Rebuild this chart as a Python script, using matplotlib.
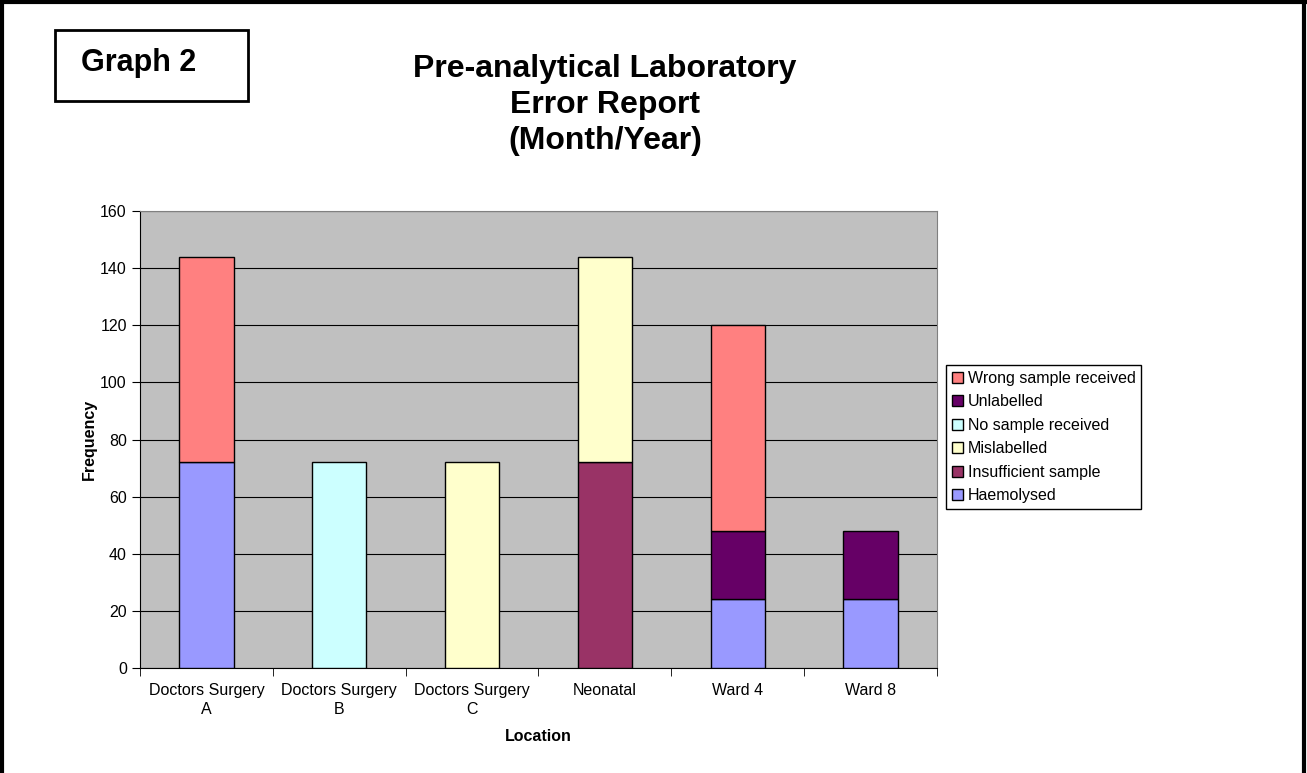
import numpy as np
import matplotlib
matplotlib.use('Agg')
import matplotlib.pyplot as plt
from matplotlib.lines import Line2D
from matplotlib.patches import Rectangle

plt.rcParams['font.family'] = ['Liberation Sans', 'DejaVu Sans']

locations = ['Doctors Surgery\nA', 'Doctors Surgery\nB', 'Doctors Surgery\nC',
             'Neonatal', 'Ward 4', 'Ward 8']
series_names = ['Haemolysed', 'Insufficient sample', 'Mislabelled',
                'No sample received', 'Unlabelled', 'Wrong sample received']
haemolysed = [72, 0, 0, 0, 24, 24]
insufficient = [0, 0, 0, 72, 0, 0]
mislabelled = [0, 0, 72, 72, 0, 0]
no_sample = [0, 72, 0, 0, 0, 0]
unlabelled = [0, 0, 0, 0, 24, 24]
wrong_sample = [72, 0, 0, 0, 72, 0]
series_colors = ['#9999FF', '#993366', '#FFFFCC', '#CCFFFF', '#660066', '#FF8080']

fig = plt.figure(figsize=(13.07, 7.73), dpi=100)
ax = fig.add_axes([140 / 1307, 1 - 668 / 773, (937 - 140) / 1307, (668 - 211) / 773])
ax.set_facecolor('#C0C0C0')

x = np.arange(len(locations))
bottom = np.zeros(len(locations))
handles = []
for name, vals, col in zip(series_names,
                           [haemolysed, insufficient, mislabelled, no_sample, unlabelled, wrong_sample],
                           series_colors):
    vals = np.array(vals, dtype=float)
    mask = vals > 0
    ax.bar(x[mask], vals[mask], 0.41, bottom=bottom[mask], color=col,
           edgecolor='black', linewidth=1, zorder=3)
    bottom += vals
    handles.append(Rectangle((0, 0), 1, 1, facecolor=col, edgecolor='black', linewidth=1))

ax.set_xlim(-0.5, len(locations) - 0.5)
ax.set_ylim(0, 160)
ax.set_yticks(np.arange(0, 161, 20))
ax.yaxis.grid(True, color='black', linewidth=0.8, zorder=1)
ax.set_axisbelow(True)
ax.set_xticks(x)
ax.set_xticklabels(locations, fontsize=11.5, linespacing=1.3)
ax.set_xticks(np.arange(-0.5, len(locations)), minor=True)
ax.tick_params(axis='x', which='major', length=0, pad=11)
ax.tick_params(axis='x', which='minor', length=6, direction='out', color='black')
ax.tick_params(axis='y', length=6, direction='out', labelsize=11.5)
for s in ['top', 'right']:
    ax.spines[s].set_color('#808080')
for s in ['left', 'bottom']:
    ax.spines[s].set_color('black')

ax.set_xlabel('Location', fontsize=11.5, fontweight='bold', labelpad=9)
ax.set_ylabel('Frequency', fontsize=11.5, fontweight='bold', labelpad=2)

leg = fig.legend(handles[::-1], series_names[::-1], loc='center left',
                 bbox_to_anchor=(946 / 1307, 1 - 437 / 773), fontsize=11.5,
                 frameon=True, fancybox=False, edgecolor='black', framealpha=1,
                 handlelength=0.7, handleheight=0.7, handletextpad=0.3,
                 labelspacing=0.53, borderpad=0.35, borderaxespad=0)
leg.get_frame().set_linewidth(1)

fig.text(605 / 1307, 1 - 105 / 773, 'Pre-analytical Laboratory\nError Report\n(Month/Year)',
         ha='center', va='center', fontsize=23, fontweight='bold', linespacing=1.25)

fig.add_artist(Rectangle((55 / 1307, 1 - 101 / 773), 193 / 1307, 71 / 773,
                         transform=fig.transFigure, facecolor='white', edgecolor='black',
                         linewidth=2))
fig.text(139 / 1307, 1 - 63 / 773, 'Graph 2', ha='center', va='center',
         fontsize=22, fontweight='bold')

# outer frame (left, top, right)
fig.add_artist(Line2D([2 / 1307, 2 / 1307], [0, 1], transform=fig.transFigure, color='black', linewidth=3))
fig.add_artist(Line2D([0, 1], [1 - 2 / 773, 1 - 2 / 773], transform=fig.transFigure, color='black', linewidth=3))
fig.add_artist(Line2D([1 - 3 / 1307, 1 - 3 / 1307], [0, 1], transform=fig.transFigure, color='black', linewidth=3))

plt.savefig('out.png', dpi=100)
